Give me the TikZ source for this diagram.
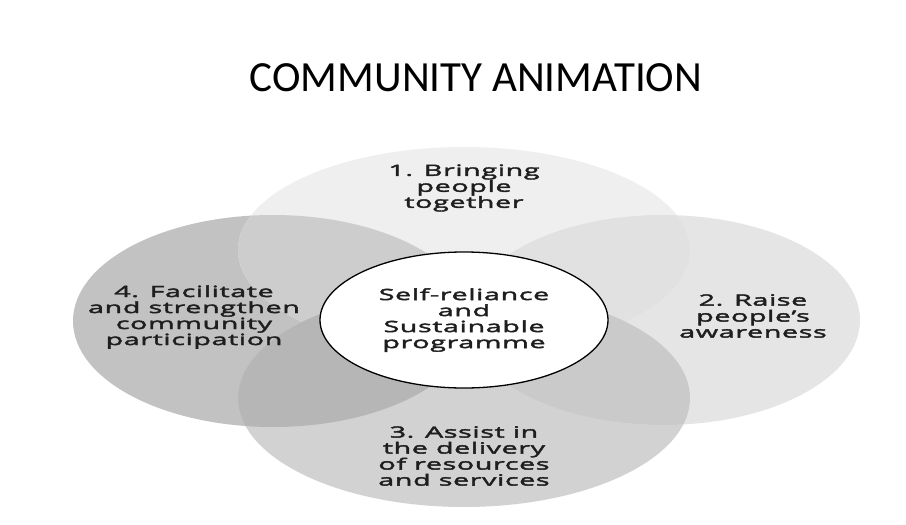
\documentclass[tikz,border=0pt]{standalone}
\usepackage{fontspec}
\usetikzlibrary{shapes.geometric}
\setmainfont{Carlito}
\newfontfamily\petalfont{Open Sans}[FakeStretch=1.85, FakeBold=2.6, LetterSpace=4]

% fills of the four petals and of their overlaps
\definecolor{cTop}{HTML}{EFEFEF}
\definecolor{cRight}{HTML}{E5E5E5}
\definecolor{cBottom}{HTML}{D2D2D2}
\definecolor{cLeft}{HTML}{C2C2C2}
\definecolor{cTopLeft}{HTML}{CDCDCD}
\definecolor{cTopRight}{HTML}{E1E1E1}
\definecolor{cBotLeft}{HTML}{B6B6B6}
\definecolor{cBotRight}{HTML}{CACACA}
\definecolor{textgray}{HTML}{1E1E1E}

\def\topE{(464,250) ellipse [x radius=226, y radius=103]}
\def\rightE{(663,320) ellipse [x radius=197, y radius=105]}
\def\bottomE{(464,398) ellipse [x radius=226, y radius=109]}
\def\leftE{(273,321) ellipse [x radius=200, y radius=106]}

\begin{document}
\begin{tikzpicture}[x=1pt,y=-1pt,
  lbl/.style={font=\petalfont\fontsize{15.5}{16}\selectfont,
              text=textgray, align=center, inner sep=0pt},
  hub/.style={ellipse, draw=black, line width=1.3pt, fill=white,
              minimum width=288pt, minimum height=136pt, inner sep=0pt}]
\useasboundingbox (0,0) rectangle (906,525);
\fill[white] (0,0) rectangle (906,525);

% petals
\fill[cLeft] \leftE;
\fill[cBottom] \bottomE;
\fill[cRight] \rightE;
\fill[cTop] \topE;
\begin{scope}
  \clip \topE;
  \fill[cTopLeft] \leftE;
  \fill[cTopRight] \rightE;
\end{scope}
\begin{scope}
  \clip \bottomE;
  \fill[cBotLeft] \leftE;
  \fill[cBotRight] \rightE;
\end{scope}

% title
\node[font=\fontsize{43}{43}\selectfont, text=black] (title) at (476,78) {COMMUNITY ANIMATION};

% hub
\node[hub, lbl] (hub) at (464,320) {Self-reliance\\and\\Sustainable\\programme};

% petal labels
\node[lbl] (p1) at (464,188) {1. Bringing\\people\\together};
\node[lbl] (p2) at (753,316) {2. Raise\\people’s\\awareness};
\node[lbl] (p3) at (464,456) {3. Assist in\\the delivery\\of resources\\and services};
\node[lbl] (p4) at (194,317) {4. Facilitate\\and strengthen\\community\\participation};
\end{tikzpicture}
\end{document}
